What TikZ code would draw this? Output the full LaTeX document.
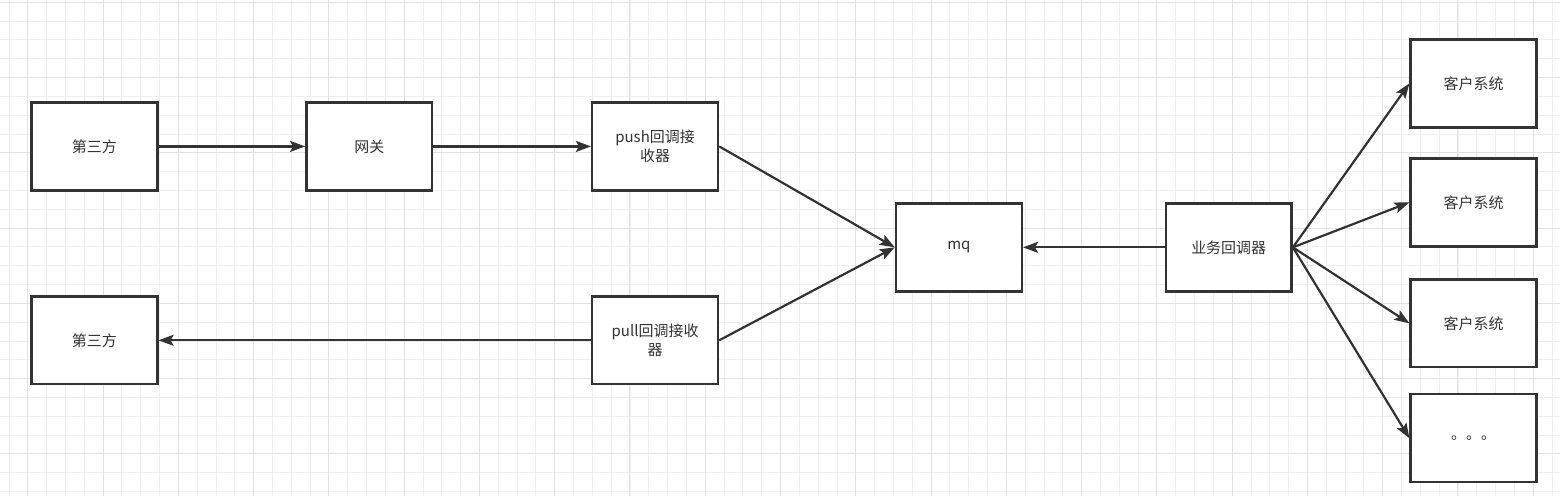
\documentclass[tikz,border=0pt]{standalone}
\usepackage{fontspec}
\setmainfont{Noto Sans CJK SC}
\usetikzlibrary{arrows.meta}
\definecolor{ink}{HTML}{333333}
\definecolor{gridminor}{HTML}{EFEFEF}
\definecolor{gridmajor}{HTML}{E2E2E2}
\begin{document}
\begin{tikzpicture}
	[x=1pt, y=-1pt,
	every node/.style={font=\fontsize{15}{19}\selectfont, text=ink, align=center},
	box/.style={draw=ink, line width=2.4pt, fill=white, minimum width=126pt, minimum height=88pt, inner sep=0pt},
	arr/.style={draw=ink, line width=2.2pt, -{Stealth[length=15pt,width=11pt,inset=3pt]}},
	]

	% Hintergrund mit Raster
	\fill[white] (0,0) rectangle (1560,496);
	\foreach \i in {-1,...,81}
		\draw[gridminor, line width=0.8pt] ({27.3+18.83*\i},0) -- ({27.3+18.83*\i},496);
	\foreach \j in {0,...,26}
		\draw[gridminor, line width=0.8pt] (0,{1.7+18.83*\j}) -- (1560,{1.7+18.83*\j});
	\foreach \i in {0,...,20}
		\draw[gridmajor, line width=1pt] ({27.3+75.32*\i},0) -- ({27.3+75.32*\i},496);
	\foreach \j in {0,...,6}
		\draw[gridmajor, line width=1pt] (0,{1.7+75.32*\j}) -- (1560,{1.7+75.32*\j});
	\useasboundingbox (0,0) rectangle (1560,496);

	% Knoten
	\node[box] (third1) at (94,146) {第三方};
	\node[box] (gateway) at (369,146) {网关};
	\node[box] (push) at (655,146) {push回调接\\收器};
	\node[box] (third2) at (94,340) {第三方};
	\node[box] (pull) at (655,340) {pull回调接收\\器};
	\node[box] (mq) at (959,247) {mq};
	\node[box] (biz) at (1229,247) {业务回调器};
	\node[box] (cust1) at (1474,83) {客户系统};
	\node[box] (cust2) at (1474,202) {客户系统};
	\node[box] (cust3) at (1474,323) {客户系统};
	\node[box] (more) at (1474,438) {。。。};

	% Pfeile
	\draw[arr] (third1) -- (gateway);
	\draw[arr] (gateway) -- (push);
	\draw[arr] (push.east) -- (mq.west);
	\draw[arr] (pull.east) -- (mq.west);
	\draw[arr] (pull) -- (third2);
	\draw[arr] (biz) -- (mq);
	\foreach \c in {cust1,cust2,cust3,more}
		\draw[arr] (biz.east) -- (\c.west);
\end{tikzpicture}
\end{document}
